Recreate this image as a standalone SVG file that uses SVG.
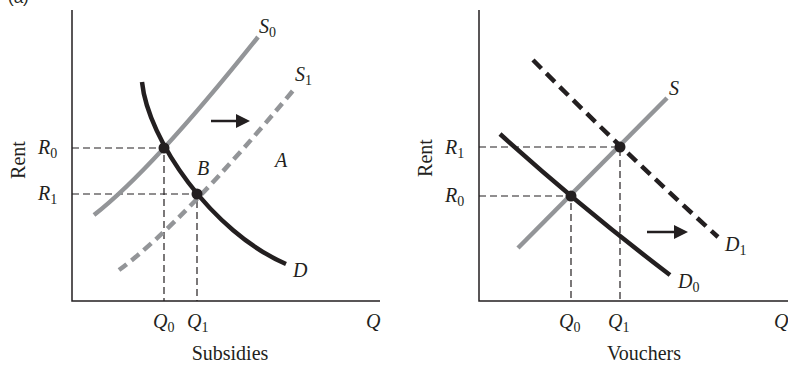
<svg xmlns="http://www.w3.org/2000/svg" width="788" height="368" viewBox="0 0 788 368">
<style>
.axis{fill:none;stroke:#231f20;stroke-width:1.5}
.guide{fill:none;stroke:#231f20;stroke-width:1.2;stroke-dasharray:7 4}
.gray{fill:none;stroke:#939598;stroke-width:4.5}
.black{fill:none;stroke:#231f20;stroke-width:4.5}
.gdash{stroke-dasharray:10 6}
.bdash{stroke-dasharray:12 7}
.dot{fill:#231f20}
.arrow{stroke:#231f20;stroke-width:2.5}
.head{fill:#231f20}
.lbl{font-family:"Liberation Serif",serif;font-size:20px;font-style:italic;fill:#231f20}
.sub{font-size:14px;font-style:normal}
.cap{font-family:"Liberation Serif",serif;font-size:20px;fill:#231f20}
</style>
<rect width="788" height="368" fill="#fff"/>
<text x="8" y="3" font-family="Liberation Sans,sans-serif" font-size="17" fill="#231f20">(a)</text>

<g id="panel-subsidies">
  <g id="axes-left">
    <path class="axis" d="M72,10 V301 H380"/>
  </g>
  <g id="connectors-left">
    <path class="guide" d="M72,148 H164 V301"/>
    <path class="guide" d="M72,194 H197 V301"/>
    <path id="S0" class="gray" d="M94,215 Q152,170 258,37"/>
    <path id="S1" class="gray gdash" d="M119,270 Q183.5,222.5 296,87"/>
    <path id="D" class="black" d="M142,82 C148,140 212,232 286,264"/>
    <line class="arrow" x1="211" y1="121" x2="237" y2="121"/>
    <polygon class="head" points="250,121 236,114 236,128"/>
  </g>
  <g id="points-left">
    <circle class="dot" cx="164" cy="148" r="5.5"/>
    <circle class="dot" cx="197" cy="194" r="5.5"/>
  </g>
  <g id="labels-left">
    <text class="lbl" x="259" y="33">S<tspan class="sub" dy="4">0</tspan></text>
    <text class="lbl" x="295" y="81">S<tspan class="sub" dy="4">1</tspan></text>
    <text class="lbl" x="275" y="167">A</text>
    <text class="lbl" x="197" y="175">B</text>
    <text class="lbl" x="293" y="277">D</text>
    <text class="lbl" x="38" y="154">R<tspan class="sub" dy="4">0</tspan></text>
    <text class="lbl" x="38" y="200">R<tspan class="sub" dy="4">1</tspan></text>
    <text class="lbl" x="153" y="328">Q<tspan class="sub" dy="4">0</tspan></text>
    <text class="lbl" x="187" y="328">Q<tspan class="sub" dy="4">1</tspan></text>
    <text class="lbl" x="366" y="328">Q</text>
    <text class="cap" x="230" y="360" text-anchor="middle">Subsidies</text>
    <text class="cap" transform="translate(25,160) rotate(-90)" text-anchor="middle">Rent</text>
  </g>
</g>

<g id="panel-vouchers">
  <g id="axes-right">
    <path class="axis" d="M479,10 V301 H788"/>
  </g>
  <g id="connectors-right">
    <path class="guide" d="M479,147 H620 V301"/>
    <path class="guide" d="M479,196 H571 V301"/>
    <path id="S" class="gray" d="M518,248 L667,98"/>
    <path id="D0" class="black" d="M500,134 Q585,210.5 670,275"/>
    <path id="D1" class="black bdash" d="M533,60 Q622,150 718,237"/>
    <line class="arrow" x1="647" y1="232" x2="674" y2="232"/>
    <polygon class="head" points="688,232 674,225 674,239"/>
  </g>
  <g id="points-right">
    <circle class="dot" cx="620" cy="147" r="5.5"/>
    <circle class="dot" cx="571" cy="196" r="5.5"/>
  </g>
  <g id="labels-right">
    <text class="lbl" x="669" y="95">S</text>
    <text class="lbl" x="725" y="251">D<tspan class="sub" dy="4">1</tspan></text>
    <text class="lbl" x="678" y="288">D<tspan class="sub" dy="4">0</tspan></text>
    <text class="lbl" x="445" y="154">R<tspan class="sub" dy="4">1</tspan></text>
    <text class="lbl" x="445" y="202">R<tspan class="sub" dy="4">0</tspan></text>
    <text class="lbl" x="559" y="328">Q<tspan class="sub" dy="4">0</tspan></text>
    <text class="lbl" x="608" y="328">Q<tspan class="sub" dy="4">1</tspan></text>
    <text class="lbl" x="774" y="328">Q</text>
    <text class="cap" x="644" y="360" text-anchor="middle">Vouchers</text>
    <text class="cap" transform="translate(432,158) rotate(-90)" text-anchor="middle">Rent</text>
  </g>
</g>
</svg>
